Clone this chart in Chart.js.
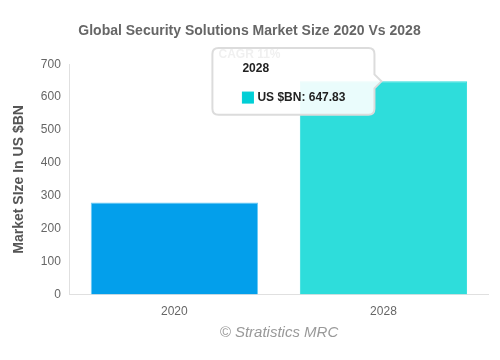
<!DOCTYPE html>
<html>
<head>
<meta charset="utf-8">
<script src="https://cdn.jsdelivr.net/npm/chart.js@4"></script>
<style>
  html, body { margin: 0; padding: 0; background: #fff; }
  #wrap { width: 500px; height: 360px; position: relative; }
</style>
</head>
<body>
<div id="wrap"><canvas id="c" width="500" height="360"></canvas></div>
<script>
const categories = ["2020", "2028"];
const seriesName = "US $BN";
const values = [280, 647.83];
const yTicks = [0, 100, 200, 300, 400, 500, 600, 700];

const barColors = ["#039FEB", "#2EDDDB"];
const barBorders = ["#6CCBF5", "#2EDDDB"];

const chart = new Chart(document.getElementById('c'), {
  type: 'bar',
  data: {
    labels: categories,
    datasets: [{
      label: seriesName,
      data: values,
      backgroundColor: barColors,
      borderColor: barBorders,
      borderWidth: 1,
      barPercentage: 0.8,
      categoryPercentage: 1.0
    }]
  },
  options: {
    responsive: false,
    animation: false,
    events: [],
    layout: { padding: { left: 11, right: 12, top: 19, bottom: 31 } },
    plugins: {
      legend: { display: false },
      title: {
        display: true,
        text: 'Global Security Solutions Market Size 2020 Vs 2028',
        color: '#666',
        font: { family: 'Liberation Sans, Arial', size: 14, weight: 'bold' },
        padding: { top: 4, bottom: 8 }
      },
      subtitle: {
        display: true,
        text: 'CAGR 11%',
        color: '#666',
        font: { family: 'Liberation Sans, Arial', size: 12, weight: 'bold' },
        padding: { top: 0, bottom: 2 }
      },
      tooltip: {
        enabled: true,
        xAlign: 'right',
        yAlign: 'center',
        backgroundColor: 'rgba(255,255,255,0.9)',
        borderColor: '#dcdcdc',
        borderWidth: 2,
        cornerRadius: 6,
        caretSize: 7,
        titleColor: '#222',
        bodyColor: '#222',
        titleFont: { family: 'Liberation Sans, Arial', size: 12, weight: 'bold' },
        bodyFont: { family: 'Liberation Sans, Arial', size: 12, weight: 'bold' },
        padding: { left: 30, right: 29, top: 14, bottom: 10 },
        titleMarginBottom: 14,
        boxWidth: 11,
        boxHeight: 11,
        boxPadding: 2,
        multiKeyBackground: '#00CFD6',
        displayColors: true,
        callbacks: {
          labelColor: () => ({ backgroundColor: '#00CFD6', borderColor: '#00CFD6', borderWidth: 1 })
        }
      }
    },
    scales: {
      x: {
        grid: { display: false, drawTicks: false },
        border: { display: true, color: '#e0e0e0' },
        ticks: { color: '#666', font: { family: 'Liberation Sans, Arial', size: 12 }, padding: 10 }
      },
      y: {
        min: 0, max: 700,
        afterBuildTicks: (axis) => { axis.ticks = yTicks.map(v => ({ value: v })); },
        grid: { display: false, drawTicks: false },
        border: { display: true, color: '#e0e0e0' },
        ticks: { color: '#666', font: { family: 'Liberation Sans, Arial', size: 12 }, padding: 9 },
        title: {
          display: true,
          text: 'Market SIze In US $BN',
          color: '#555',
          font: { family: 'Liberation Sans, Arial', size: 14, weight: 'bold' },
          padding: { top: 0, bottom: 4 }
        }
      }
    }
  },
  plugins: [{
    id: 'footer',
    afterDraw(chart) {
      const ctx = chart.ctx;
      ctx.save();
      ctx.font = 'italic 15px "Liberation Sans", Arial';
      ctx.fillStyle = '#999';
      ctx.textAlign = 'center';
      ctx.textBaseline = 'middle';
      ctx.fillText('\u00A9 Stratistics MRC', 279, 333);
      ctx.restore();
    }
  }]
});
chart.tooltip.setActiveElements([{ datasetIndex: 0, index: 1 }], { x: 0, y: 0 });
chart.update();
</script>
</body>
</html>
